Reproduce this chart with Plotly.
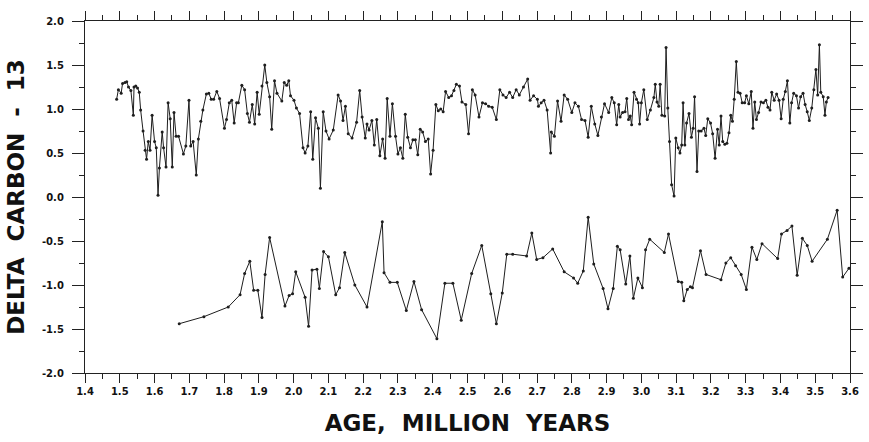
import plotly.graph_objects as go

# Upper series: age (Myr) and delta C-13
upper_age = [
    1.491, 1.496, 1.504, 1.508, 1.515, 1.520, 1.525, 1.532, 1.539, 1.541,
    1.546, 1.551, 1.556, 1.560, 1.567, 1.573, 1.577, 1.582, 1.587, 1.593,
    1.600, 1.605, 1.610, 1.614, 1.622, 1.626, 1.633, 1.639, 1.645, 1.651,
    1.656, 1.662, 1.669, 1.683, 1.690, 1.699, 1.704, 1.711, 1.720, 1.726,
    1.733, 1.739, 1.749, 1.756, 1.763, 1.770, 1.779, 1.787, 1.801, 1.807,
    1.815, 1.822, 1.829, 1.836, 1.841, 1.851, 1.859, 1.867, 1.873, 1.881,
    1.888, 1.895, 1.901, 1.909, 1.917, 1.923, 1.931, 1.937, 1.945, 1.952,
    1.966, 1.973, 1.980, 1.986, 1.991, 2.001, 2.008, 2.017, 2.027, 2.033,
    2.041, 2.049, 2.055, 2.063, 2.071, 2.077, 2.085, 2.093, 2.102, 2.114,
    2.128, 2.135, 2.142, 2.149, 2.157, 2.168, 2.181, 2.190, 2.197, 2.206,
    2.211, 2.217, 2.225, 2.232, 2.239, 2.248, 2.256, 2.263, 2.269, 2.277,
    2.284, 2.293, 2.300, 2.307, 2.314, 2.321, 2.328, 2.336, 2.343, 2.350,
    2.357, 2.364, 2.371, 2.379, 2.387, 2.394, 2.401, 2.409, 2.416, 2.423,
    2.430, 2.437, 2.446, 2.454, 2.461, 2.468, 2.477, 2.484, 2.495, 2.503,
    2.514, 2.522, 2.533, 2.543, 2.552, 2.561, 2.571, 2.583, 2.593, 2.602,
    2.611, 2.621, 2.630, 2.640, 2.649, 2.661, 2.673, 2.680, 2.690, 2.701,
    2.704, 2.712, 2.720, 2.729, 2.739, 2.741, 2.750, 2.759, 2.769, 2.778,
    2.788, 2.800, 2.809, 2.819, 2.828, 2.838, 2.847, 2.856, 2.866, 2.875,
    2.885, 2.894, 2.906, 2.915, 2.922, 2.929, 2.935, 2.939, 2.946, 2.953,
    2.958, 2.963, 2.968, 2.972, 2.979, 2.986, 2.991, 2.995, 3.000, 3.007,
    3.017, 3.026, 3.036, 3.040, 3.045, 3.050, 3.054, 3.059, 3.067, 3.071,
    3.076, 3.081, 3.087, 3.094, 3.099, 3.106, 3.111, 3.116, 3.120, 3.125,
    3.130, 3.137, 3.144, 3.149, 3.153, 3.160, 3.165, 3.172, 3.180, 3.185,
    3.191, 3.199, 3.205, 3.212, 3.219, 3.224, 3.229, 3.234, 3.240, 3.246,
    3.252, 3.257, 3.262, 3.267, 3.273, 3.278, 3.284, 3.290, 3.297, 3.302,
    3.309, 3.316, 3.321, 3.326, 3.331, 3.337, 3.344, 3.351, 3.358, 3.364,
    3.370, 3.375, 3.382, 3.389, 3.396, 3.402, 3.408, 3.414, 3.420, 3.427,
    3.432, 3.438, 3.446, 3.452, 3.458, 3.465, 3.471, 3.477, 3.483, 3.490,
    3.496, 3.502, 3.507, 3.512, 3.516, 3.523, 3.528, 3.532, 3.537,
]
upper_d13c = [
    1.11, 1.22, 1.18, 1.29, 1.30, 1.31, 1.25, 1.21, 0.93, 1.25,
    1.26, 1.24, 1.19, 0.99, 0.75, 0.53, 0.43, 0.63, 0.53, 0.93,
    0.63, 0.56, 0.02, 0.33, 0.74, 0.56, 0.34, 1.07, 0.89, 0.34,
    0.96, 0.69, 0.69, 0.49, 0.58, 1.10, 0.58, 0.63, 0.25, 0.66,
    0.86, 0.99, 1.17, 1.18, 1.11, 1.11, 1.20, 1.12, 0.78, 0.88,
    1.07, 1.10, 0.84, 1.07, 1.07, 1.27, 1.22, 0.95, 0.85, 1.05,
    0.83, 1.19, 0.94, 1.26, 1.50, 1.30, 1.14, 0.77, 1.32, 1.18,
    1.09, 1.30, 1.27, 1.32, 1.15, 1.10, 1.01, 0.95, 0.56, 0.50,
    0.58, 0.97, 0.43, 0.90, 0.78, 0.10, 0.97, 0.75, 0.66, 0.76,
    1.16, 1.09, 0.87, 1.03, 0.72, 0.67, 0.85, 1.21, 0.91, 0.67,
    0.83, 0.76, 0.87, 0.59, 0.88, 0.47, 0.66, 0.44, 1.12, 0.69,
    1.06, 0.69, 0.49, 0.56, 0.44, 0.94, 0.68, 0.56, 0.65, 0.65,
    0.48, 0.77, 0.74, 0.63, 0.66, 0.26, 0.53, 1.05, 0.98, 1.00,
    0.97, 1.20, 1.13, 1.15, 1.21, 1.28, 1.26, 1.08, 1.05, 0.72,
    1.22, 1.16, 0.91, 1.07, 1.06, 1.03, 1.02, 0.88, 1.22, 1.16,
    1.13, 1.19, 1.13, 1.22, 1.16, 1.25, 1.34, 1.10, 1.15, 1.11,
    1.03, 1.07, 1.10, 0.99, 0.50, 0.74, 0.69, 1.09, 0.86, 1.16,
    1.11, 0.96, 1.07, 1.03, 0.88, 0.87, 0.68, 1.03, 0.83, 0.70,
    0.91, 1.06, 0.96, 1.13, 1.07, 0.82, 1.05, 0.91, 0.96, 0.97,
    1.12, 0.88, 0.92, 0.82, 1.19, 1.11, 1.07, 0.83, 1.07, 1.22,
    0.88, 0.99, 1.13, 1.28, 1.08, 1.03, 1.28, 0.93, 0.92, 1.70,
    1.01, 0.63, 0.14, 0.01, 0.67, 0.56, 0.50, 0.59, 1.07, 0.59,
    0.84, 0.95, 0.68, 0.78, 1.14, 0.29, 0.75, 0.75, 0.78, 0.70,
    0.89, 0.84, 0.72, 0.44, 0.77, 0.59, 0.92, 0.63, 0.60, 0.61,
    0.73, 0.93, 0.86, 1.11, 1.54, 1.19, 1.18, 1.07, 1.07, 1.15,
    1.06, 1.20, 0.78, 1.08, 0.88, 0.96, 1.08, 1.07, 1.10, 1.02,
    0.99, 1.19, 1.10, 1.17, 1.10, 0.89, 1.11, 1.20, 1.32, 0.84,
    1.07, 1.18, 1.15, 1.01, 1.14, 1.18, 1.05, 0.97, 0.87, 1.01,
    1.22, 1.45, 1.16, 1.73, 1.19, 1.14, 0.93, 1.08, 1.13,
]

# Lower series: age (Myr) and delta C-13
lower_age = [
    1.671, 1.742, 1.812, 1.846, 1.859, 1.874, 1.885, 1.897, 1.909, 1.918,
    1.931, 1.975, 1.987, 1.997, 2.006, 2.033, 2.043, 2.053, 2.067, 2.074,
    2.086, 2.100, 2.121, 2.132, 2.147, 2.176, 2.211, 2.255, 2.260, 2.277,
    2.298, 2.324, 2.346, 2.368, 2.412, 2.435, 2.458, 2.482, 2.512, 2.541,
    2.567, 2.583, 2.600, 2.613, 2.630, 2.670, 2.685, 2.699, 2.717, 2.745,
    2.778, 2.805, 2.817, 2.833, 2.847, 2.863, 2.890, 2.904, 2.919, 2.931,
    2.939, 2.955, 2.967, 2.977, 2.990, 3.003, 3.012, 3.024, 3.066, 3.078,
    3.106, 3.116, 3.122, 3.132, 3.141, 3.147, 3.170, 3.186, 3.229, 3.243,
    3.257, 3.271, 3.287, 3.302, 3.318, 3.332, 3.347, 3.392, 3.403, 3.419,
    3.433, 3.448, 3.463, 3.477, 3.491, 3.535, 3.563, 3.579, 3.597,
]
lower_d13c = [
    -1.44, -1.36, -1.25, -1.11, -0.87, -0.73, -1.06, -1.06, -1.37, -0.88,
    -0.46, -1.24, -1.12, -1.10, -0.85, -1.14, -1.47, -0.83, -0.82, -1.04,
    -0.62, -0.68, -1.11, -1.03, -0.63, -1.00, -1.25, -0.28, -0.86, -0.97,
    -0.97, -1.29, -0.96, -1.28, -1.61, -0.98, -0.98, -1.40, -0.87, -0.55,
    -1.10, -1.44, -1.09, -0.65, -0.65, -0.67, -0.41, -0.71, -0.69, -0.59,
    -0.85, -0.92, -0.98, -0.84, -0.23, -0.76, -1.04, -1.27, -1.04, -0.56,
    -0.60, -0.99, -0.67, -1.15, -0.92, -1.03, -0.60, -0.48, -0.63, -0.42,
    -0.96, -0.97, -1.18, -1.05, -1.02, -1.03, -0.61, -0.88, -0.94, -0.75,
    -0.69, -0.78, -0.88, -1.05, -0.57, -0.71, -0.53, -0.70, -0.42, -0.38,
    -0.33, -0.89, -0.47, -0.55, -0.73, -0.48, -0.15, -0.91, -0.81,
]

x_tick_vals = [1.4, 1.5, 1.6, 1.7, 1.8, 1.9, 2.0, 2.1, 2.2, 2.3, 2.4, 2.5,
               2.6, 2.7, 2.8, 2.9, 3.0, 3.1, 3.2, 3.3, 3.4, 3.5, 3.6]
y_tick_vals = [2.0, 1.5, 1.0, 0.5, 0.0, -0.5, -1.0, -1.5, -2.0]

line_color = "#1e1e1e"
font_family = "DejaVu Sans, Liberation Sans, Arial, sans-serif"

fig = go.Figure()
for xs, ys in ((upper_age, upper_d13c), (lower_age, lower_d13c)):
    fig.add_trace(go.Scatter(
        x=xs, y=ys, mode="lines+markers",
        line=dict(color=line_color, width=1.0),
        marker=dict(symbol="circle", size=3, color=line_color),
        showlegend=False, hoverinfo="skip",
    ))

tick_font = dict(family=font_family, size=10, color="#111", weight="bold")
xtitle_font = dict(family=font_family, size=23, color="#111", weight="bold")
ytitle_font = dict(family=font_family, size=23, color="#111", weight="bold")

fig.update_layout(
    width=869, height=442,
    margin=dict(l=85, r=6, t=21, b=69),
    paper_bgcolor="white", plot_bgcolor="white",
    xaxis=dict(
        range=[1.4, 3.6], tickvals=x_tick_vals,
        ticktext=[f"{v:.1f}" for v in x_tick_vals],
        ticks="outside", ticklen=9, tickwidth=1, tickcolor="#222",
        minor=dict(dtick=0.05, tick0=1.4, ticks="outside", ticklen=5,
                   tickwidth=1, tickcolor="#222"),
        showline=True, linecolor="#222", linewidth=1.3, mirror="allticks",
        showgrid=False, zeroline=False, tickfont=tick_font,
        title=dict(text="AGE,\u00a0 MILLION\u00a0 YEARS", font=xtitle_font, standoff=18),
    ),
    yaxis=dict(
        range=[-2.0, 2.0], tickvals=y_tick_vals,
        ticktext=[f"{v:.1f}" for v in y_tick_vals],
        ticks="outside", ticklen=12, tickwidth=1, tickcolor="#222",
        minor=dict(dtick=0.25, tick0=0, ticks="outside", ticklen=5,
                   tickwidth=1, tickcolor="#222"),
        showline=True, linecolor="#222", linewidth=1.3, mirror="allticks",
        showgrid=False, zeroline=False, tickfont=tick_font,
        ticklabelstandoff=6,
        title=dict(text="DELTA\u00a0 CARBON\u00a0 -\u00a0 13", font=ytitle_font, standoff=10),
    ),
)

fig.write_html("out.html", config={"displayModeBar": False},
               post_script="document.body.style.margin='0';")
